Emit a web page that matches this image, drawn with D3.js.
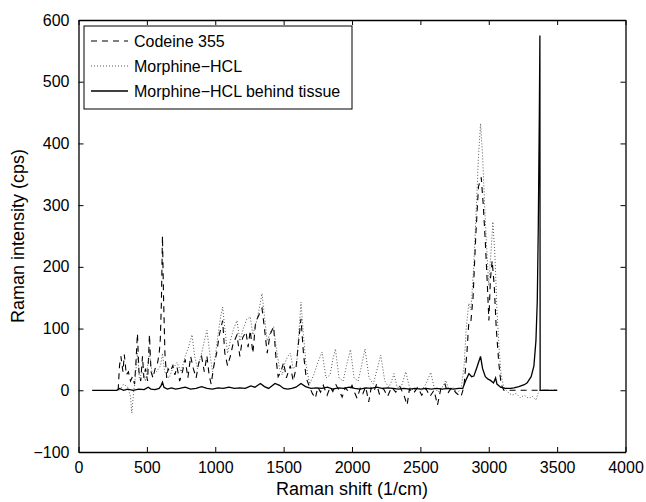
<!DOCTYPE html>
<html>
<head>
<meta charset="utf-8">
<script src="https://cdn.jsdelivr.net/npm/d3@7"></script>
<style>
  body { margin: 0; background: #fff; }
  text { font-family: "Liberation Sans", Arial, sans-serif; fill: #000; }
</style>
</head>
<body>
<script>
let width = 646;
let height = 502;

// spectra: [raman shift, intensity]
const codeine = [[290,0],[300,40],[310,55],[325,30],[335,58],[350,25],[365,30],[380,15],[395,22],[410,10],[420,45],[431,92],[442,30],[455,15],[468,55],[478,20],[490,35],[505,15],[519,90],[530,30],[545,20],[560,35],[575,40],[590,60],[598,82],[606,140],[614,250],[622,150],[632,60],[645,20],[655,35],[670,30],[690,40],[705,25],[720,38],[740,15],[760,30],[780,50],[800,20],[820,55],[840,35],[860,20],[880,45],[900,55],[920,30],[939,56],[955,25],[970,10],[990,40],[1010,60],[1030,90],[1054,113],[1070,60],[1090,40],[1110,55],[1130,75],[1159,90],[1180,55],[1200,85],[1225,95],[1240,70],[1256,97],[1275,60],[1295,110],[1315,120],[1342,133],[1360,100],[1380,60],[1400,90],[1427,103],[1445,50],[1460,22],[1480,30],[1500,45],[1520,20],[1549,40],[1570,15],[1590,35],[1610,80],[1627,116],[1645,60],[1665,20],[1690,5],[1710,-5],[1732,-13],[1750,5],[1770,-3],[1790,8],[1818,-8],[1840,5],[1860,-2],[1880,10],[1905,0],[1928,-11],[1950,4],[1975,-2],[2000,8],[2020,-4],[2037,-13],[2060,3],[2080,-5],[2100,6],[2122,-19],[2140,4],[2160,-2],[2180,10],[2200,-6],[2230,3],[2260,-10],[2290,5],[2320,-3],[2350,6],[2380,-8],[2403,-24],[2420,2],[2450,-5],[2480,5],[2510,-8],[2540,3],[2570,-10],[2600,0],[2625,-24],[2650,3],[2680,10],[2700,-5],[2730,5],[2760,-4],[2796,-11],[2818,5],[2840,60],[2855,113],[2870,113],[2885,150],[2905,250],[2925,330],[2945,345],[2960,300],[2975,240],[2990,170],[3001,113],[3012,180],[3025,210],[3040,170],[3055,100],[3074,43],[3090,10],[3110,0],[3500,0]];

const morphine = [[300,0],[330,10],[360,5],[380,-10],[390,-37],[400,-10],[415,20],[431,60],[445,20],[470,30],[490,15],[519,60],[540,25],[570,30],[600,40],[614,60],[630,30],[660,20],[690,35],[720,45],[750,30],[780,55],[805,70],[830,90],[850,55],[870,35],[900,60],[920,80],[939,97],[960,60],[980,30],[1000,55],[1020,90],[1040,120],[1054,135],[1070,100],[1090,60],[1110,80],[1135,100],[1159,113],[1180,80],[1205,100],[1230,115],[1256,119],[1275,90],[1300,110],[1320,130],[1342,157],[1360,120],[1380,80],[1405,95],[1427,103],[1445,70],[1470,35],[1490,25],[1510,45],[1530,55],[1549,60],[1570,35],[1595,40],[1610,90],[1627,143],[1645,90],[1665,40],[1690,10],[1720,25],[1750,45],[1781,62],[1810,20],[1840,25],[1860,50],[1879,67],[1905,20],[1935,15],[1960,40],[1989,66],[2015,20],[2045,15],[2070,40],[2095,67],[2125,20],[2155,10],[2185,35],[2210,57],[2240,15],[2270,5],[2290,15],[2307,27],[2330,5],[2360,5],[2393,30],[2420,5],[2450,0],[2480,5],[2510,0],[2540,10],[2576,29],[2600,5],[2630,-3],[2660,5],[2686,16],[2710,0],[2740,5],[2770,-5],[2800,5],[2820,40],[2835,100],[2854,141],[2870,130],[2890,200],[2910,300],[2925,380],[2940,432],[2955,380],[2970,300],[2985,230],[3000,170],[3015,220],[3030,273],[3045,220],[3060,130],[3075,70],[3090,25],[3110,5],[3140,-3],[3170,-8],[3200,-5],[3230,-12],[3260,-8],[3290,-13],[3320,-10],[3345,-16],[3360,-5],[3374,0],[3500,0]];

const tissue = [[100,0],[280,0],[300,3],[330,0],[360,2],[400,0],[440,2],[480,1],[510,5],[530,2],[560,1],[590,3],[605,8],[614,13],[625,5],[650,2],[680,4],[710,2],[740,3],[780,5],[820,2],[860,3],[900,6],[940,3],[980,2],[1020,4],[1060,3],[1100,5],[1140,3],[1180,4],[1220,3],[1260,7],[1290,5],[1330,11],[1360,6],[1390,3],[1437,11],[1470,8],[1500,3],[1530,2],[1560,3],[1590,5],[1627,11],[1660,6],[1700,3],[1740,4],[1780,3],[1820,5],[1860,2],[1900,4],[1940,3],[1980,5],[2020,3],[2060,2],[2100,4],[2140,3],[2180,5],[2220,3],[2260,4],[2300,3],[2340,2],[2380,3],[2420,2],[2460,3],[2500,2],[2540,3],[2580,2],[2620,3],[2660,2],[2700,3],[2740,2],[2780,3],[2810,3],[2830,15],[2855,27],[2875,22],[2891,23],[2910,35],[2925,45],[2940,55],[2955,35],[2975,22],[2995,18],[3013,16],[3035,12],[3050,20],[3060,10],[3086,5],[3120,3],[3160,3],[3184,4],[3220,6],[3260,9],[3281,12],[3310,22],[3330,39],[3345,80],[3355,146],[3362,260],[3370,450],[3374,575],[3376,0],[3500,0]];

const seriesNames = ["Codeine 355", "Morphine\u2212HCL", "Morphine\u2212HCL behind tissue"];
const xTicks = [0, 500, 1000, 1500, 2000, 2500, 3000, 3500, 4000];
const yTicks = [-100, 0, 100, 200, 300, 400, 500, 600];

const margin = { left: 78.5, right: 646 - 625.5, top: 20, bottom: 502 - 452 };

const svg = d3.select("body").append("svg")
    .attr("width", width)
    .attr("height", height);

const x = d3.scaleLinear().domain([0, 4000]).range([margin.left, width - margin.right]);
const y = d3.scaleLinear().domain([-100, 600]).range([height - margin.bottom, margin.top]);

// line styles, matlab-ish
const styles = [
    { dash: "6,5", w: 1.1, color: "#000" },
    { dash: "1,2", w: 0.9, color: "#444" },
    { dash: null, w: 1.3, color: "#000" }
];

const line = d3.line().x(d => x(d[0])).y(d => y(d[1]));

const plot = svg.append("g");
[codeine, morphine, tissue].forEach((s, i) => {
    plot.append("path")
        .attr("d", line(s))
        .attr("fill", "none")
        .attr("stroke", styles[i].color)
        .attr("stroke-width", styles[i].w)
        .attr("stroke-dasharray", styles[i].dash);
});

// axes: ticks inward, box all round
const tickLen = 5;
const fmt = d => d < 0 ? "\u2212" + Math.abs(d) : d;

svg.append("g")
    .attr("transform", `translate(0,${y(-100)})`)
    .call(d3.axisBottom(x).tickValues(xTicks).tickSizeInner(-tickLen).tickSizeOuter(0).tickPadding(10).tickFormat(fmt))
    .call(g => g.selectAll("text").attr("font-size", 16).attr("font-family", "Liberation Sans, Arial, sans-serif"));
svg.append("g")
    .attr("transform", `translate(0,${y(600)})`)
    .call(d3.axisTop(x).tickValues(xTicks).tickSizeInner(-tickLen).tickSizeOuter(0).tickFormat(""));
svg.append("g")
    .attr("transform", `translate(${x(0)},0)`)
    .call(d3.axisLeft(y).tickValues(yTicks).tickSizeInner(-tickLen).tickSizeOuter(0).tickPadding(9).tickFormat(fmt))
    .call(g => g.selectAll("text").attr("font-size", 16).attr("font-family", "Liberation Sans, Arial, sans-serif"));
svg.append("g")
    .attr("transform", `translate(${x(4000)},0)`)
    .call(d3.axisRight(y).tickValues(yTicks).tickSizeInner(-tickLen).tickSizeOuter(0).tickFormat(""));
svg.selectAll(".domain").attr("stroke", "#000").attr("stroke-width", 1.3);
svg.selectAll(".tick line").attr("stroke", "#000");

// axis titles
svg.append("text")
    .attr("x", (x(0) + x(4000)) / 2)
    .attr("y", 495)
    .attr("text-anchor", "middle")
    .attr("font-size", 18)
    .text("Raman shift (1/cm)");
svg.append("text")
    .attr("transform", `translate(24,${(y(-100) + y(600)) / 2}) rotate(-90)`)
    .attr("text-anchor", "middle")
    .attr("font-size", 18)
    .text("Raman intensity (cps)");

// legend
const lg = svg.append("g").attr("transform", "translate(84,26)");
lg.append("rect")
    .attr("width", 268).attr("height", 83)
    .attr("fill", "#fff").attr("stroke", "#000").attr("stroke-width", 1);
seriesNames.forEach((name, i) => {
    const yy = 15 + i * 25;
    lg.append("line")
        .attr("x1", 7).attr("x2", 44).attr("y1", yy).attr("y2", yy)
        .attr("stroke", styles[i].color)
        .attr("stroke-width", styles[i].w)
        .attr("stroke-dasharray", styles[i].dash);
    lg.append("text")
        .attr("x", 50).attr("y", yy)
        .attr("dy", "0.35em")
        .attr("font-size", 16)
        .text(name);
});
</script>
</body>
</html>
